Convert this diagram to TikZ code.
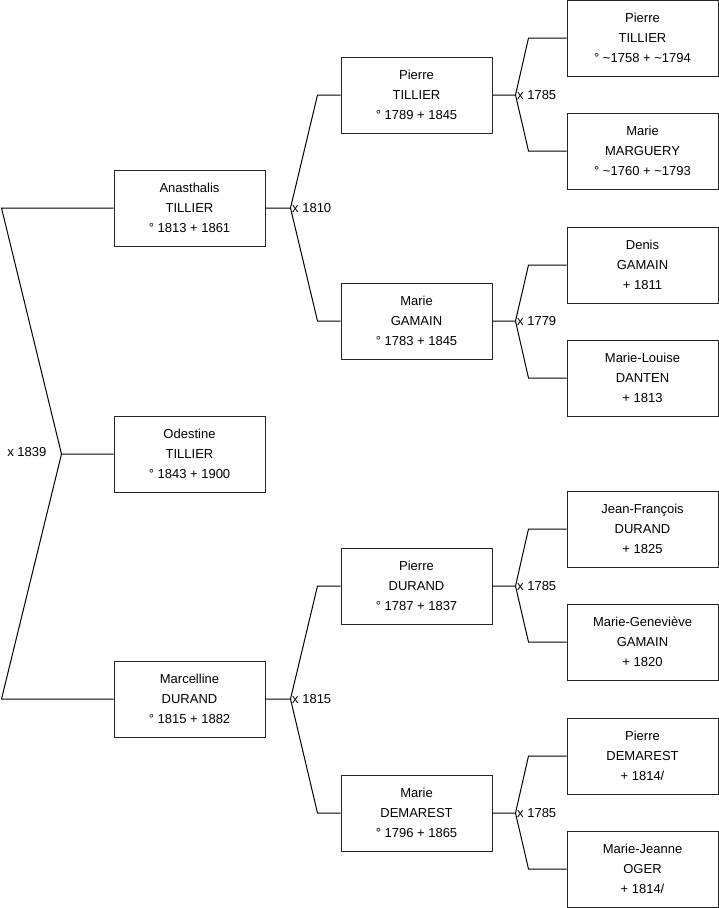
\documentclass[tikz,border=0pt]{standalone}
\usepackage{fontspec}
\setmainfont{Liberation Sans}
\usetikzlibrary{calc}
\begin{document}
\begin{tikzpicture}[x=1pt,y=-1pt,
  person/.style={draw=black!85, line width=1pt, minimum width=151pt, minimum height=76pt,
    align=center, font=\fontsize{13}{20}\selectfont, inner sep=0pt},
  link/.style={line width=1pt, black},
  mlabel/.style={anchor=west, font=\fontsize{13}{16}\selectfont, inner sep=1.5pt}]
\useasboundingbox (0,0) rectangle (719,908);
% column 1
\node[person] (anas) at (189.5,208) {Anasthalis\\TILLIER\\° 1813 + 1861};
\node[person] (odes) at (189.5,454) {Odestine\\TILLIER\\° 1843 + 1900};
\node[person] (marc) at (189.5,699) {Marcelline\\DURAND\\° 1815 + 1882};
% column 2
\node[person] (ptil) at (416.5,95) {Pierre\\TILLIER\\° 1789 + 1845};
\node[person] (mgam) at (416.5,321) {Marie\\GAMAIN\\° 1783 + 1845};
\node[person] (pdur) at (416.5,586) {Pierre\\DURAND\\° 1787 + 1837};
\node[person] (mdem) at (416.5,813) {Marie\\DEMAREST\\° 1796 + 1865};
% column 3
\node[person] (ptil2) at (642.5,38) {Pierre\\TILLIER\\° \textasciitilde1758 + \textasciitilde1794};
\node[person] (mmar) at (642.5,151) {Marie\\MARGUERY\\° \textasciitilde1760 + \textasciitilde1793};
\node[person] (dgam) at (642.5,265) {Denis\\GAMAIN\\+ 1811};
\node[person] (mdan) at (642.5,378) {Marie-Louise\\DANTEN\\+ 1813};
\node[person] (jdur) at (642.5,529) {Jean-François\\DURAND\\+ 1825};
\node[person] (mgga) at (642.5,642) {Marie-Geneviève\\GAMAIN\\+ 1820};
\node[person] (pdem) at (642.5,756) {Pierre\\DEMAREST\\+ 1814/};
\node[person] (moge) at (642.5,869) {Marie-Jeanne\\OGER\\+ 1814/};
% leftmost couple
\coordinate (fO) at ($(odes.west)+(-52,0)$);
\draw[link] (odes.west) -- (fO) -- ($(anas.west)+(-112,0)$) -- (anas.west);
\draw[link] (fO) -- ($(marc.west)+(-112,0)$) -- (marc.west);
\node[anchor=east, font=\fontsize{13}{16}\selectfont, inner sep=0pt] (l1839) at ($(fO)+(-15,-2)$) {x 1839};
% column 1 -> 2
\coordinate (fA) at ($(anas.east)+(25,0)$);
\draw[link] (anas.east) -- (fA) -- ($(ptil.west)+(-23,0)$) -- (ptil.west);
\draw[link] (fA) -- ($(mgam.west)+(-23,0)$) -- (mgam.west);
\node[mlabel] (l1810) at (fA) {x 1810};
\coordinate (fM) at ($(marc.east)+(25,0)$);
\draw[link] (marc.east) -- (fM) -- ($(pdur.west)+(-23,0)$) -- (pdur.west);
\draw[link] (fM) -- ($(mdem.west)+(-23,0)$) -- (mdem.west);
\node[mlabel] (l1815) at (fM) {x 1815};
% column 2 -> 3
\coordinate (fP) at ($(ptil.east)+(23,0)$);
\draw[link] (ptil.east) -- (fP) -- ($(ptil2.west)+(-38,0)$) -- (ptil2.west);
\draw[link] (fP) -- ($(mmar.west)+(-38,0)$) -- (mmar.west);
\node[mlabel] (l1785a) at (fP) {x 1785};
\coordinate (fG) at ($(mgam.east)+(23,0)$);
\draw[link] (mgam.east) -- (fG) -- ($(dgam.west)+(-38,0)$) -- (dgam.west);
\draw[link] (fG) -- ($(mdan.west)+(-38,0)$) -- (mdan.west);
\node[mlabel] (l1779) at (fG) {x 1779};
\coordinate (fD) at ($(pdur.east)+(23,0)$);
\draw[link] (pdur.east) -- (fD) -- ($(jdur.west)+(-38,0)$) -- (jdur.west);
\draw[link] (fD) -- ($(mgga.west)+(-38,0)$) -- (mgga.west);
\node[mlabel] (l1785b) at (fD) {x 1785};
\coordinate (fE) at ($(mdem.east)+(23,0)$);
\draw[link] (mdem.east) -- (fE) -- ($(pdem.west)+(-38,0)$) -- (pdem.west);
\draw[link] (fE) -- ($(moge.west)+(-38,0)$) -- (moge.west);
\node[mlabel] (l1785c) at (fE) {x 1785};
\end{tikzpicture}
\end{document}
